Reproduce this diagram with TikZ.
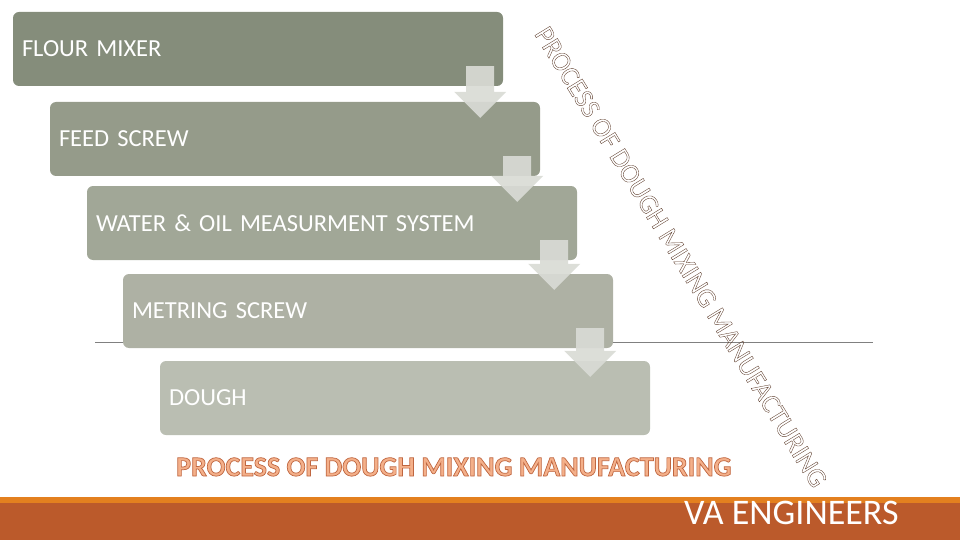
\documentclass[tikz,border=0pt]{standalone}
\usepackage{fontspec}
\setmainfont{Carlito}
\usetikzlibrary{calc}
\definecolor{boxa}{HTML}{858D7B}
\definecolor{boxb}{HTML}{959B8A}
\definecolor{boxc}{HTML}{A1A797}
\definecolor{boxd}{HTML}{AEB1A4}
\definecolor{boxe}{HTML}{BABEB2}
\definecolor{arrowfill}{HTML}{D9DBD5}
\definecolor{sidetext}{HTML}{5B3A29}
\definecolor{titlefill}{HTML}{F4B08A}
\definecolor{barorange}{HTML}{E3801F}
\definecolor{barrust}{HTML}{BB5A2B}
\begin{document}
\begin{tikzpicture}[x=1pt, y=-1pt,
        stepbox/.style={rounded corners=6pt, minimum height=74pt, text width=472pt,
            inner xsep=9pt, inner ysep=0pt, align=left, text=white,
            font=\fontsize{24.5}{28}\selectfont},
        flowarrow/.style={fill=arrowfill, opacity=0.92}]
        \useasboundingbox (0,0) rectangle (960,540);
    
        % 分隔线
        \draw[gray, line width=0.75pt] (95,342) -- (873,342);
    
        % 工序方框
        \node[stepbox, fill=boxa] (b1) at (258,49) {FLOUR MIXER};
        \node[stepbox, fill=boxb] (b2) at (295,139) {FEED SCREW};
        \node[stepbox, fill=boxc] (b3) at (332,223) {WATER \& OIL MEASURMENT SYSTEM};
        \node[stepbox, fill=boxd] (b4) at (368,311) {METRING SCREW};
        \node[stepbox, fill=boxe] (b5) at (405,398) {DOUGH};
    
        % 下箭头
        \foreach \i/\j in {1/2, 2/3, 3/4, 4/5} {
            \coordinate (top) at ($(b\i.south east)+(-23,-20)$);
            \coordinate (tip) at (top |- b\j.north);
            \fill[flowarrow] ($(top)+(-14,0)$) -- ($(top)+(14,0)$)
                -- ($(tip)+(14,-10)$) -- ($(tip)+(26,-10)$)
                -- ($(tip)+(0,16)$)
                -- ($(tip)+(-26,-10)$) -- ($(tip)+(-14,-10)$) -- cycle;
        }
    
        % 斜排标题
        \node[rotate=-58.5, text=sidetext, font=\fontsize{27.5}{32}\selectfont] (side) at (681,257)
            {\special{pdf:literal direct 0.35 w 1 Tr}PROCESS OF DOUGH MIXING MANUFACTURING\special{pdf:literal direct 0 Tr}};
    
        % 底部标题
        \node[anchor=base west, inner sep=0pt, text=titlefill, font=\bfseries\fontsize{28}{32}\selectfont] (title) at (176,476)
            {\special{pdf:literal direct 0.75 0.40 0.25 RG 0.7 w 2 Tr}PROCESS OF DOUGH MIXING MANUFACTURING\special{pdf:literal direct 0 Tr}};
    
        % 底栏
        \fill[barorange] (0,497) rectangle (960,503);
        \fill[barrust] (0,503) rectangle (960,540);
        \node[anchor=base west, inner sep=0pt, text=white, font=\fontsize{36}{40}\selectfont] (brand) at (684,524) {VA ENGINEERS};
    \end{tikzpicture}
\end{document}
